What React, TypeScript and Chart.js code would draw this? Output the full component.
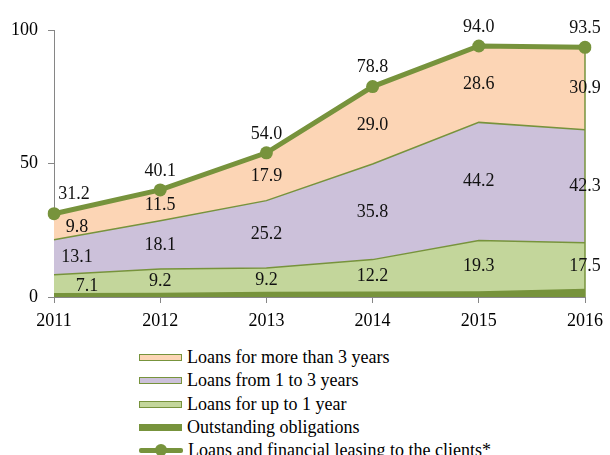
import React, { useEffect, useRef } from "react";
import { Chart, registerables } from "chart.js";

Chart.register(...registerables);

const years = ["2011", "2012", "2013", "2014", "2015", "2016"];
const outstanding = [1.2, 1.3, 1.7, 1.8, 1.9, 2.8];
const upToOne = [7.1, 9.2, 9.2, 12.2, 19.3, 17.5];
const oneToThree = [13.1, 18.1, 25.2, 35.8, 44.2, 42.3];
const moreThanThree = [9.8, 11.5, 17.9, 29.0, 28.6, 30.9];
const totalLoans = [31.2, 40.1, 54.0, 78.8, 94.0, 93.5];
const yTicks = [0, 50, 100];

const seriesNames = [
  "Loans for more than 3 years",
  "Loans from 1 to 3 years",
  "Loans for up to 1 year",
  "Outstanding obligations",
  "Loans and financial leasing to the clients*",
];

const GREEN = "#77933C";
const PEACH = "#FCD5B5";
const LAVENDER = "#CCC1DA";
const LIGHTGREEN = "#C3D69B";
const FONT = "'Liberation Serif', 'Times New Roman', serif";
const FS = 18;

const labelPlugin = {
  id: "bandLabels",
  afterDatasetsDraw(chart: any) {
    const { ctx } = chart;
    const xs = chart.scales.x;
    const ys = chart.scales.y;
    const stacks = [outstanding, upToOne, oneToThree, moreThanThree];
    ctx.save();
    const last = years.length - 1;
    const topLast = stacks.reduce((s, a) => s + a[last], 0);
    ctx.strokeStyle = GREEN;
    ctx.lineWidth = 1.5;
    ctx.beginPath();
    ctx.moveTo(xs.getPixelForValue(last), ys.getPixelForValue(0));
    ctx.lineTo(xs.getPixelForValue(last), ys.getPixelForValue(topLast));
    ctx.stroke();

    ctx.font = `${FS}px ${FONT}`;
    ctx.fillStyle = "#111";
    ctx.textAlign = "center";
    ctx.textBaseline = "middle";
    for (let i = 0; i < years.length; i++) {
      let base = 0;
      for (let s = 0; s < stacks.length; s++) {
        const v = stacks[s][i];
        if (s > 0) {
          const mid = base + v / 2;
          let dx = i === 0 ? 23 : 0;
          let dy = 0;
          if (i === 0 && s === 1) {
            dx = 33;
            dy = 2;
          }
          const x = xs.getPixelForValue(i) + dx;
          ctx.fillText(v.toFixed(1), x, ys.getPixelForValue(mid) + dy);
        }
        base += v;
      }
      const tx = xs.getPixelForValue(i) + (i === 0 ? 20 : 0);
      ctx.fillText(totalLoans[i].toFixed(1), tx, ys.getPixelForValue(totalLoans[i]) - 19);
    }
    ctx.restore();
  },
};

export default function App() {
  const ref = useRef<HTMLCanvasElement | null>(null);
  useEffect(() => {
    if (!ref.current) return;
    const chart = new Chart(ref.current, {
      type: "line",
      data: {
        labels: years,
        datasets: [
          {
            label: seriesNames[4],
            data: totalLoans,
            stack: "total",
            borderColor: GREEN,
            backgroundColor: GREEN,
            borderWidth: 5,
            pointRadius: 6.5,
            pointBackgroundColor: GREEN,
            pointBorderWidth: 0,
            fill: false,
            tension: 0,
          },
          {
            label: seriesNames[3],
            data: outstanding,
            stack: "areas",
            borderColor: GREEN,
            backgroundColor: GREEN,
            borderWidth: 1.5,
            pointRadius: 0,
            fill: "origin",
          },
          {
            label: seriesNames[2],
            data: upToOne,
            stack: "areas",
            borderColor: GREEN,
            backgroundColor: LIGHTGREEN,
            borderWidth: 1.5,
            pointRadius: 0,
            fill: "-1",
          },
          {
            label: seriesNames[1],
            data: oneToThree,
            stack: "areas",
            borderColor: GREEN,
            backgroundColor: LAVENDER,
            borderWidth: 1.5,
            pointRadius: 0,
            fill: "-1",
          },
          {
            label: seriesNames[0],
            data: moreThanThree,
            stack: "areas",
            borderColor: GREEN,
            backgroundColor: PEACH,
            borderWidth: 1.5,
            pointRadius: 0,
            fill: "-1",
          },
        ],
      },
      options: {
        responsive: false,
        animation: false,
        devicePixelRatio: 1,
        layout: { padding: { left: 0, right: 19, top: 30, bottom: 0 } },
        plugins: { legend: { display: false }, tooltip: { enabled: false } },
        scales: {
          x: {
            type: "category",
            offset: false,
            grid: {
              display: true,
              drawOnChartArea: false,
              drawTicks: true,
              tickLength: 6,
              color: "#868686",
            },
            border: { display: true, color: "#868686", width: 1 },
            ticks: {
              color: "#000",
              font: { family: FONT, size: FS },
              padding: 7,
              maxRotation: 0,
              autoSkip: false,
            },
            afterFit(scale: any) {
              scale.height = 43;
            },
          },
          y: {
            stacked: true,
            min: 0,
            max: 100,
            afterBuildTicks(scale: any) {
              scale.ticks = yTicks.map((v) => ({ value: v }));
            },
            grid: {
              display: true,
              drawOnChartArea: false,
              drawTicks: true,
              tickLength: 6,
              color: "#868686",
            },
            border: { display: true, color: "#868686", width: 1 },
            ticks: {
              color: "#000",
              font: { family: FONT, size: FS },
              padding: 10,
            },
            afterFit(scale: any) {
              scale.width = 54;
            },
          },
        },
      },
      plugins: [labelPlugin],
    });
    return () => chart.destroy();
  }, []);

  const swatchColors = [PEACH, LAVENDER, LIGHTGREEN, GREEN];
  return (
    <div
      style={{
        position: "absolute",
        left: 0,
        top: 0,
        width: 610,
        height: 455,
        overflow: "hidden",
        background: "#fff",
      }}
    >
      <canvas ref={ref} width={610} height={340} style={{ display: "block" }} />
      <div
        style={{
          position: "absolute",
          left: 139,
          top: 346,
          fontFamily: FONT,
          fontSize: FS,
          color: "#000",
        }}
      >
        {seriesNames.map((name, i) => (
          <div
            key={name}
            style={{ display: "flex", alignItems: "center", height: 23.3, whiteSpace: "nowrap" }}
          >
            {i < 4 ? (
              <div
                style={{
                  width: 41,
                  height: 5,
                  background: swatchColors[i],
                  border: `1.5px solid ${GREEN}`,
                  marginRight: 5,
                  flex: "none",
                }}
              />
            ) : (
              <div style={{ position: "relative", width: 44, height: 13, marginRight: 5, flex: "none" }}>
                <div
                  style={{
                    position: "absolute",
                    left: 0,
                    top: 4,
                    width: 44,
                    height: 5,
                    background: GREEN,
                    borderRadius: 2,
                  }}
                />
                <div
                  style={{
                    position: "absolute",
                    left: 16,
                    top: 0,
                    width: 12,
                    height: 12,
                    borderRadius: 6,
                    background: GREEN,
                  }}
                />
              </div>
            )}
            <span>{name}</span>
          </div>
        ))}
      </div>
    </div>
  );
}
